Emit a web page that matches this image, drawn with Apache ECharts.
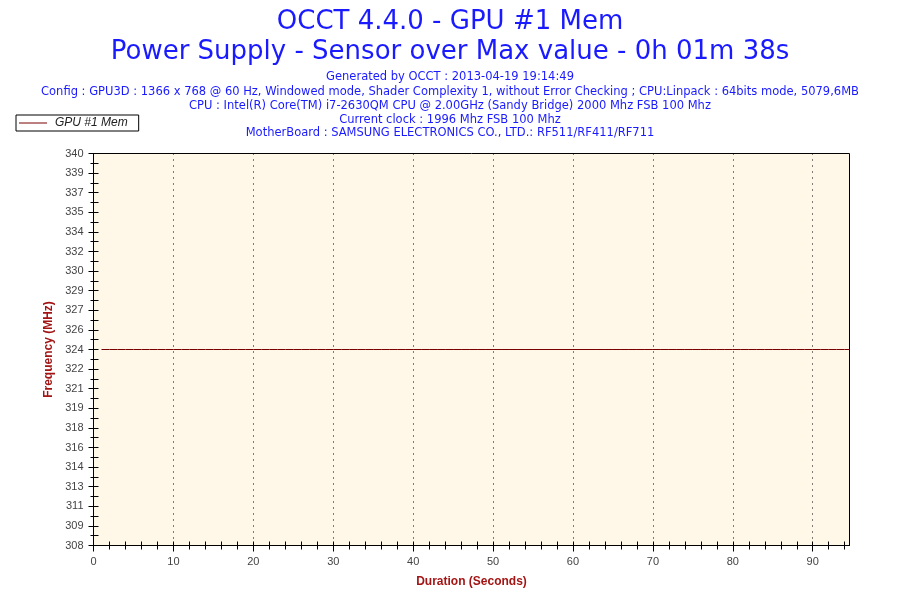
<!DOCTYPE html>
<html>
<head>
<meta charset="utf-8">
<script src="https://cdn.jsdelivr.net/npm/echarts@6/dist/echarts.min.js"></script>
<style>
html,body{margin:0;padding:0;background:#fff;}
#chart{width:900px;height:600px;}
</style>
</head>
<body>
<div id="chart"></div>
<script>
// ---- Data ----
const titleMain = "OCCT 4.4.0 - GPU #1 Mem";
const titleSub = "Power Supply - Sensor over Max value - 0h 01m 38s";
const infoLines = [
  "Generated by OCCT : 2013-04-19 19:14:49",
  "Config : GPU3D : 1366 x 768 @ 60 Hz, Windowed mode, Shader Complexity 1, without Error Checking ; CPU:Linpack : 64bits mode, 5079,6MB",
  "CPU : Intel(R) Core(TM) i7-2630QM CPU @ 2.00GHz (Sandy Bridge) 2000 Mhz FSB 100 Mhz",
  "Current clock : 1996 Mhz FSB 100 Mhz",
  "MotherBoard : SAMSUNG ELECTRONICS CO., LTD.: RF511/RF411/RF711"
];
const seriesName = "GPU #1 Mem";
const times = [1,2,3,4,5,6,7,8,9,10,11,12,13,14,15,16,17,18,19,20,21,22,23,24,25,26,27,28,29,30,31,32,33,34,35,36,37,38,39,40,41,42,43,44,45,46,47,48,49,50,51,52,53,54,55,56,57,58,59,60,61,62,63,64,65,66,67,68,69,70,71,72,73,74,75,76,77,78,79,80,81,82,83,84,85,86,87,88,89,90,91,92,93,94,95,96,97,98];
const freq = [324,324,324,324,324,324,324,324,324,324,324,324,324,324,324,324,324,324,324,324,324,324,324,324,324,324,324,324,324,324,324,324,324,324,324,324,324,324,324,324,324,324,324,324,324,324,324,324,324,324,324,324,324,324,324,324,324,324,324,324,324,324,324,324,324,324,324,324,324,324,324,324,324,324,324,324,324,324,324,324,324,324,324,324,324,324,324,324,324,324,324,324,324,324,324,324,324,324];
const yTickValues = [308,309.6,311.2,312.8,314.4,316,317.6,319.2,320.8,322.4,324,325.6,327.2,328.8,330.4,332,333.6,335.2,336.8,338.4,340];
const yTickLabels = ["308","309","311","313","314","316","318","319","321","322","324","326","327","329","330","332","334","335","337","339","340"];
const xTickValues = [0,10,20,30,40,50,60,70,80,90];
const xTickLabels = ["0","10","20","30","40","50","60","70","80","90"];
const yMin = 308, yMax = 340, xMin = 0, xMax = 94.6;

// derived tick positions
const yMinor = [];
for (let i = 0; i < yTickValues.length - 1; i++) yMinor.push((yTickValues[i] + yTickValues[i+1]) / 2);
const xMinor = [];
for (let t = 2; t <= xMax; t += 2) if (t % 10 !== 0) xMinor.push(t);

const yLabelMap = {};
yTickValues.forEach((v, i) => { yLabelMap[v.toFixed(1)] = yTickLabels[i]; });

const chart = echarts.init(document.getElementById('chart'), null, {renderer: 'canvas'});
const axisFont = 'Liberation Sans, Arial, sans-serif';
const titleFont = 'DejaVu Sans, Verdana, sans-serif';
const blue = '#1a1aff';
const black = '#000';
const lineColor = '#7a0000';

const titles = [
  {text: titleMain, left: 'center', top: 4,
   textStyle: {fontFamily: titleFont, fontSize: 26, fontWeight: 'normal', color: blue}},
  {text: titleSub, left: 'center', top: 34,
   textStyle: {fontFamily: titleFont, fontSize: 26, fontWeight: 'normal', color: blue}}
];
const infoTops = [71, 86, 100, 114, 127];
infoLines.forEach((line, i) => {
  titles.push({text: line, left: 'center', top: infoTops[i], padding: 0,
    textStyle: {fontFamily: titleFont, fontSize: 11.5, fontWeight: 'normal', color: blue}});
});

const option = {
  backgroundColor: '#fff',
  animation: false,
  title: titles,
  legend: {
    left: 16, top: 115,
    orient: 'horizontal',
    padding: [2, 11, 2, 3],
    borderColor: black, borderWidth: 1, borderRadius: 0,
    itemWidth: 28, itemHeight: 1, itemGap: 5,
    data: [{name: seriesName, icon: 'rect'}],
    textStyle: {fontFamily: axisFont, fontSize: 12, fontStyle: 'italic', color: '#222', padding: [0,0,0,3]}
  },
  grid: {
    left: 93.5, right: 50.5, top: 153.5, bottom: 54.5,
    show: true, backgroundColor: '#fff7e8', borderColor: black, borderWidth: 1
  },
  xAxis: [
    {
      type: 'value', min: xMin, max: xMax, interval: 10,
      name: 'Duration (Seconds)', nameLocation: 'middle', nameGap: 30,
      nameTextStyle: {fontFamily: axisFont, fontSize: 12, fontWeight: 'bold', color: '#a31515'},
      axisLine: {show: true, lineStyle: {color: black, width: 1}},
      axisTick: {show: true, customValues: xTickValues, length: 6, inside: false, lineStyle: {color: black}},
      axisLabel: {show: true, customValues: xTickValues, margin: 11,
        formatter: (v) => { const i = xTickValues.indexOf(v); return i >= 0 ? xTickLabels[i] : ''; },
        fontFamily: axisFont, fontSize: 11, color: '#444'},
      splitLine: {show: true, lineStyle: {color: black, type: [1, 5], width: 1}}
    },
    {
      type: 'value', min: xMin, max: xMax, position: 'bottom',
      axisLine: {show: false},
      axisTick: {show: true, customValues: xTickValues.concat(xMinor), length: 4, inside: true, lineStyle: {color: black}},
      axisLabel: {show: false}, splitLine: {show: false}
    },
    {
      type: 'value', min: xMin, max: xMax, position: 'bottom',
      axisLine: {show: false},
      axisTick: {show: true, customValues: xMinor, length: 4, inside: false, lineStyle: {color: black}},
      axisLabel: {show: false}, splitLine: {show: false}
    }
  ],
  yAxis: [
    {
      type: 'value', min: yMin, max: yMax, position: 'left',
      name: 'Frequency (MHz)', nameLocation: 'middle', nameGap: 37, nameRotate: 90,
      nameTextStyle: {fontFamily: axisFont, fontSize: 12, fontWeight: 'bold', color: '#a31515'},
      axisLine: {show: true, lineStyle: {color: black, width: 1}},
      axisTick: {show: true, customValues: yTickValues, length: 5, inside: false, lineStyle: {color: black}},
      axisLabel: {show: true, customValues: yTickValues, margin: 10,
        formatter: (v) => yLabelMap[Number(v).toFixed(1)] || '',
        fontFamily: axisFont, fontSize: 11, color: '#444'},
      splitLine: {show: false}
    },
    {
      type: 'value', min: yMin, max: yMax, position: 'left', offset: 0,
      axisLine: {show: false},
      axisTick: {show: true, customValues: yTickValues.concat(yMinor), length: 5, inside: true, lineStyle: {color: black}},
      axisLabel: {show: false}, splitLine: {show: false}
    },
    {
      type: 'value', min: yMin, max: yMax, position: 'left', offset: 0,
      axisLine: {show: false},
      axisTick: {show: true, customValues: yMinor, length: 3, inside: false, lineStyle: {color: black}},
      axisLabel: {show: false}, splitLine: {show: false}
    }
  ],
  series: [
    {
      name: seriesName, type: 'line', xAxisIndex: 0, yAxisIndex: 0,
      data: times.map((t, i) => [t, freq[i]]),
      showSymbol: false, symbol: 'none', clip: true,
      lineStyle: {color: lineColor, width: 1},
      itemStyle: {color: lineColor}
    }
  ]
};
chart.setOption(option);
</script>
</body>
</html>
